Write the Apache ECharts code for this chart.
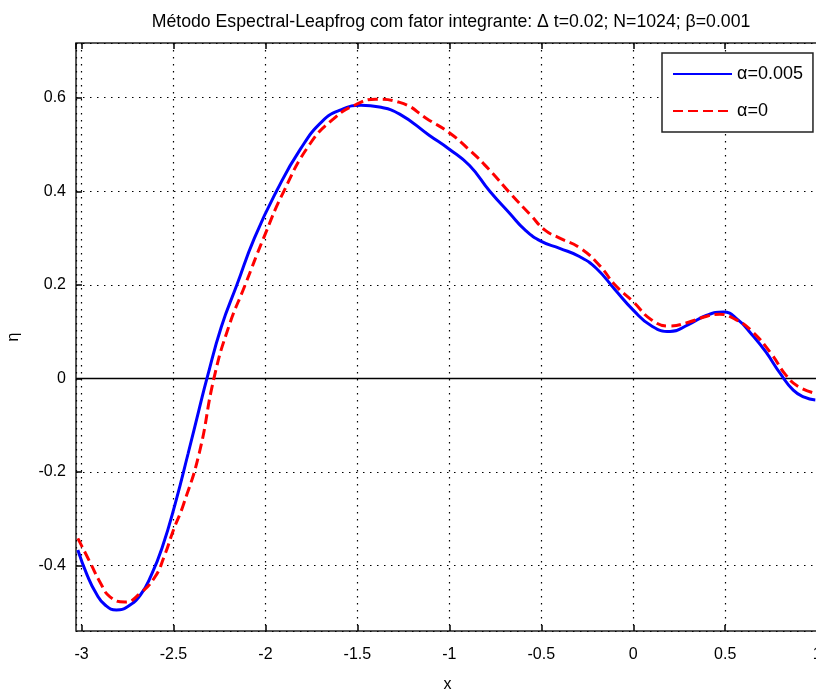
<!DOCTYPE html>
<html>
<head>
<meta charset="utf-8">
<script src="https://cdn.jsdelivr.net/npm/echarts@6/dist/echarts.min.js"></script>
<style>
  html, body { margin: 0; padding: 0; background: #fff; }
  #chart { width: 816px; height: 693px; }
</style>
</head>
<body>
<div id="chart"></div>
<script>
// curva alpha = 0.005 (azul)
const xBlue = [-3.02, -2.97, -2.92, -2.87, -2.81, -2.75, -2.68, -2.62, -2.56, -2.49,
  -2.42, -2.36, -2.318, -2.24, -2.155, -2.06, -1.94, -1.81, -1.69, -1.59,
  -1.48, -1.38, -1.27, -1.11, -1.0, -0.89, -0.78, -0.67, -0.59, -0.5,
  -0.4, -0.29, -0.2, -0.1, 0.0, 0.1, 0.2, 0.3, 0.4, 0.49,
  0.57, 0.64, 0.72, 0.8, 0.87, 0.93, 0.99]
const yBlue = [-0.367, -0.42, -0.46, -0.485, -0.495, -0.488, -0.463, -0.42, -0.36, -0.267,
  -0.16, -0.065, 0, 0.11, 0.2, 0.30, 0.40, 0.49, 0.55, 0.574,
  0.584, 0.58, 0.565, 0.52, 0.49, 0.455, 0.40, 0.352, 0.318, 0.293,
  0.278, 0.26, 0.235, 0.19, 0.146, 0.112, 0.10, 0.115, 0.135, 0.142,
  0.125, 0.096, 0.057, 0.01, -0.025, -0.04, -0.046]

// curva alpha = 0 (vermelha, tracejada)
const xRed = [-3.02, -2.95, -2.9, -2.845, -2.764, -2.68, -2.6, -2.55, -2.5, -2.447,
  -2.36, -2.28, -2.2, -2.11, -2.01, -1.9, -1.76, -1.63, -1.51, -1.4,
  -1.27, -1.11, -1.0, -0.89, -0.78, -0.67, -0.56, -0.48, -0.4, -0.29,
  -0.18, -0.1, 0.0, 0.1, 0.2, 0.3, 0.4, 0.47, 0.56, 0.64,
  0.75, 0.83, 0.9, 0.99]
const yRed = [-0.342, -0.396, -0.435, -0.467, -0.478, -0.459, -0.424, -0.38, -0.324, -0.271,
  -0.16, 0, 0.11, 0.2, 0.30, 0.40, 0.50, 0.555, 0.585, 0.597,
  0.59, 0.552, 0.525, 0.488, 0.445, 0.396, 0.35, 0.317, 0.30, 0.279,
  0.24, 0.2, 0.164, 0.125, 0.112, 0.12, 0.133, 0.137, 0.125, 0.103,
  0.053, 0.007, -0.018, -0.032]

// linha do zero
const xZero = [-3.03, 1.01]
const yZero = [0, 0]

const xLimits = [-3.03, 1.01]
const yLimits = [-0.54, 0.717]

const pair = (xs, ys) => xs.map((x, i) => [x, ys[i]])

const fontName = 'Liberation Sans, Arial, sans-serif'
const gridDots = { color: '#000', width: 1.2, type: [1.5, 5.5] }
const inTicks = { inside: true, length: 6, lineStyle: { color: '#000', width: 1.5 } }

const chart = echarts.init(document.getElementById('chart'))

chart.setOption({
  animation: false,
  backgroundColor: '#fff',
  title: {
    text: 'Método Espectral-Leapfrog com fator integrante: Δ t=0.02; N=1024; β=0.001',
    left: 446,
    top: 8,
    textAlign: 'center',
    textStyle: { fontFamily: fontName, fontSize: 17.7, fontWeight: 'normal', color: '#000' }
  },
  grid: {
    left: 76, top: 43, right: -3, bottom: 62,
    outerBoundsMode: 'none',
    containLabel: false,
    show: true, borderColor: '#222', borderWidth: 1.5
  },
  legend: {
    orient: 'vertical',
    left: 662, top: 53,
    padding: [12, 10, 12, 10],
    itemWidth: 59, itemHeight: 16, itemGap: 19,
    backgroundColor: '#fff',
    borderColor: '#222', borderWidth: 1.5,
    itemStyle: { opacity: 0 },
    textStyle: { fontFamily: fontName, fontSize: 18, color: '#000' },
    data: ['α=0.005', 'α=0']
  },
  xAxis: [
    {
      type: 'value', min: xLimits[0], max: xLimits[1],
      minInterval: 0.5, maxInterval: 0.5, splitNumber: 8,
      name: 'x', nameLocation: 'middle', nameGap: 46,
      nameTextStyle: { fontFamily: fontName, fontSize: 16, color: '#000' },
      axisLine: { show: false, onZero: false },
      axisTick: inTicks,
      axisLabel: {
        margin: 16, showMinLabel: false, showMaxLabel: false,
        fontFamily: fontName, fontSize: 16, color: '#000',
        formatter: (v) => Math.abs(v * 2 - Math.round(v * 2)) < 1e-6 ? String(+v.toFixed(1)) : ''
      },
      splitLine: { show: true, lineStyle: gridDots }
    },
    {
      type: 'value', position: 'top', min: xLimits[0], max: xLimits[1],
      minInterval: 0.5, maxInterval: 0.5, splitNumber: 8,
      axisLine: { show: false, onZero: false },
      axisTick: inTicks,
      axisLabel: { show: false },
      splitLine: { show: false }
    }
  ],
  yAxis: {
    type: 'value', min: yLimits[0], max: yLimits[1],
    minInterval: 0.2, maxInterval: 0.2, splitNumber: 6,
    name: 'η', nameLocation: 'middle', nameGap: 54,
    nameTextStyle: { fontFamily: fontName, fontSize: 16, color: '#000' },
    axisLine: { show: false, onZero: false },
    axisTick: inTicks,
    axisLabel: {
      margin: 10, showMinLabel: false, showMaxLabel: false,
      fontFamily: fontName, fontSize: 16, color: '#000',
      formatter: (v) => Math.abs(v * 5 - Math.round(v * 5)) < 1e-6 ? String(+v.toFixed(1)) : ''
    },
    splitLine: { show: true, lineStyle: gridDots }
  },
  series: [
    {
      name: 'zero',
      type: 'line',
      data: pair(xZero, yZero),
      symbol: 'none',
      lineStyle: { color: '#000', width: 1.5 },
      z: 1
    },
    {
      name: 'α=0.005',
      type: 'line',
      data: pair(xBlue, yBlue),
      smooth: true,
      symbol: 'none',
      color: '#0000ff',
      lineStyle: { color: '#0000ff', width: 3 },
      z: 2
    },
    {
      name: 'α=0',
      type: 'line',
      data: pair(xRed, yRed),
      smooth: true,
      symbol: 'none',
      color: '#ff0000',
      lineStyle: { color: '#ff0000', width: 3, type: [10, 5] },
      z: 3
    }
  ]
})
</script>
</body>
</html>
